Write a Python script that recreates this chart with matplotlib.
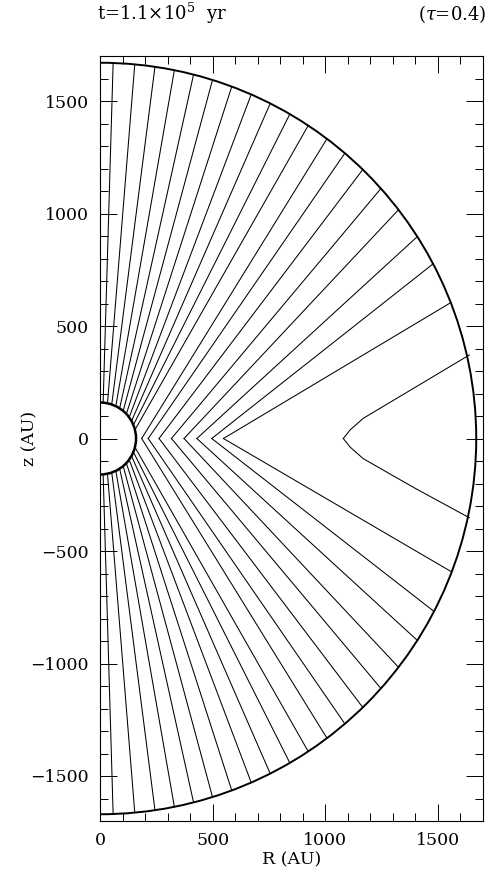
import numpy as np
import matplotlib.pyplot as plt
from matplotlib.patches import Arc
from matplotlib.ticker import MultipleLocator

plt.rcParams['font.family'] = 'DejaVu Serif'
plt.rcParams['mathtext.fontset'] = 'dejavuserif'

r_in = 160.0     # AU, inner sphere
r_out = 1670.0   # AU, outer boundary

# lines anchored on the inner sphere: polar angle (deg from the pole)
# where they leave the sphere and where they hit the outer edge
foot_theta = [5, 12, 19, 26, 33, 40, 47, 54, 61, 68, 76]
end_theta_sph = [2.0, 5.3, 8.4, 11.4, 14.4, 17.4, 20.5, 23.7, 26.9, 30.3, 33.6]

# lines pinched at the midplane: kink radius, exit angle upper / lower half
kink_R = [185, 214, 262, 317, 373, 430, 496, 548]
end_theta_up = [37.1, 40.6, 44.3, 48.3, 52.5, 57.5, 62.3, 68.8]
end_theta_lo = [37.1, 40.6, 44.3, 48.3, 52.5, 57.5, 62.6, 69.2]

# outermost pinched line, read point by point
far_R = [1080, 1110, 1169, 1400, 1639]
far_z_up = [0, 38, 90, 228, 371]
far_z_lo = [0, -38, -90, -222, -352]

fig = plt.figure(figsize=(4.88, 8.76), dpi=100)
ax = fig.add_axes([100/488, 55/876, 383/488, 765/876])

lc = dict(color='black', lw=0.75)
for sgn in (1, -1):
    for t0, t1 in zip(foot_theta, end_theta_sph):
        a0, a1 = np.radians(t0), np.radians(t1)
        ax.plot([r_in*np.sin(a0), r_out*np.sin(a1)],
                [sgn*r_in*np.cos(a0), sgn*r_out*np.cos(a1)], **lc)
    ends = end_theta_up if sgn > 0 else end_theta_lo
    for rk, t1 in zip(kink_R, ends):
        a1 = np.radians(t1)
        ax.plot([rk, r_out*np.sin(a1)], [0, sgn*r_out*np.cos(a1)], **lc)
ax.plot(far_R, far_z_up, **lc)
ax.plot(far_R, far_z_lo, **lc)

ax.add_patch(Arc((0, 0), 2*r_out, 2*r_out, theta1=-90, theta2=90, color='black', lw=1.4))
ax.add_patch(Arc((0, 0), 2*r_in, 2*r_in, theta1=-90, theta2=90, color='black', lw=1.8))

ax.set_xlim(0, 1700)
ax.set_ylim(-1700, 1700)
ax.xaxis.set_major_locator(MultipleLocator(500))
ax.xaxis.set_minor_locator(MultipleLocator(100))
ax.yaxis.set_major_locator(MultipleLocator(500))
ax.yaxis.set_minor_locator(MultipleLocator(100))
ax.tick_params(which='both', direction='in', top=True, right=True, width=0.7)
ax.tick_params(which='major', length=12, labelsize=12.5, pad=8)
ax.tick_params(which='minor', length=6)
for s in ax.spines.values():
    s.set_linewidth(0.8)

ax.set_xlabel('R (AU)', fontsize=12.5)
ax.set_ylabel('z (AU)', fontsize=12.5)
ax.xaxis.set_label_coords(0.5, -0.040)
ax.yaxis.set_label_coords(-0.16, 0.5)

fig.text(97/488, 1-20/876, r't=1.1$\times$10$^5$  yr', fontsize=13, va='baseline')
fig.text(486/488, 1-20/876, r'($\tau$=0.4)', fontsize=13, va='baseline', ha='right')

fig.savefig('out.png', dpi=100)
